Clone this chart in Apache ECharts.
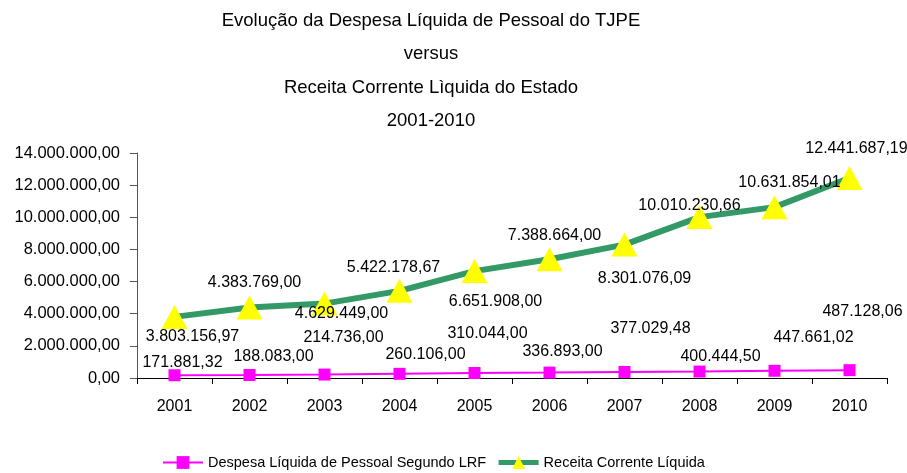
<!DOCTYPE html>
<html lang="pt">

<head>
    <meta charset="UTF-8">
    <title>Despesa x Receita TJPE</title>
    <script src="https://cdn.jsdelivr.net/npm/echarts@6/dist/echarts.min.js"></script>
    <style>
        html, body { margin: 0; padding: 0; background: #fff; }
        #chart { width: 907px; height: 473px; }
    </style>
</head>

<body>
    <div id="chart"></div>
    <script>
        var anos = ['2001', '2002', '2003', '2004', '2005', '2006', '2007', '2008', '2009', '2010'];
        var despesa = [171881.32, 188083.00, 214736.00, 260106.00, 310044.00, 336893.00, 377029.48, 400444.50, 447661.02, 487128.06];
        var receita = [3803156.97, 4383769.00, 4629449.00, 5422178.67, 6651908.00, 7388664.00, 8301076.09, 10010230.66, 10631854.01, 12441687.19];

        // onde cada rótulo fica em relação ao ponto (só estilo)
        var offDespesa = [[8, -13], [24, -18], [19, -37], [26, -19], [13, -39], [13, -21], [26, -43], [21, -15], [39, -33], [13, -59]];
        var offReceita = [[18, 20], [5, -25], [17, 10], [-6, -23], [21, 30], [5, -24], [20, 34], [-10, -12], [15, -25], [7, -29]];

        var fonte = '"Liberation Sans", Arial, sans-serif';

        // 3803156.97 -> 3.803.156,97
        function fmt(v) {
            var p = v.toFixed(2).split('.');
            return p[0].replace(/\B(?=(\d{3})+(?!\d))/g, '.') + ',' + p[1];
        }

        function comRotulos(vals, offs) {
            return vals.map(function(v, i) {
                return { value: v, label: { offset: offs[i] } };
            });
        }

        var myChart = echarts.init(document.getElementById('chart'));
        var option = {
            animation: false,
            textStyle: { fontFamily: fonte },
            title: {
                text: 'Evolução da Despesa Líquida de Pessoal do TJPE\nversus\nReceita Corrente Lìquida do Estado\n2001-2010',
                left: 431,
                textAlign: 'center',
                top: 4,
                padding: 0,
                textStyle: { fontSize: 18.5, fontWeight: 'normal', color: '#000', lineHeight: 33.5, fontFamily: fonte }
            },
            grid: { left: 137, right: 20, top: 153, bottom: 95 },
            legend: {
                left: 157,
                top: 450,
                itemWidth: 40,
                itemHeight: 16,
                itemGap: 10,
                textStyle: { fontSize: 14.5, color: '#000', fontFamily: fonte },
                data: [
                    { name: 'Despesa Líquida de Pessoal Segundo LRF' },
                    { name: 'Receita Corrente Líquida', lineStyle: { width: 5 } }
                ]
            },
            xAxis: {
                type: 'category',
                data: anos,
                boundaryGap: true,
                axisLine: { lineStyle: { color: '#000', width: 1 } },
                axisTick: { show: true, length: 6, lineStyle: { color: '#000' } },
                axisLabel: { fontSize: 16, color: '#000', margin: 21, fontFamily: fonte }
            },
            yAxis: {
                type: 'value',
                min: 0,
                max: 14000000,
                interval: 2000000,
                splitLine: { show: false },
                axisLine: { show: true, lineStyle: { color: '#555', width: 1 } },
                axisTick: { show: true, length: 7, lineStyle: { color: '#555' } },
                axisLabel: { fontSize: 16.5, color: '#000', margin: 17, fontFamily: fonte, formatter: fmt }
            },
            series: [{
                name: 'Despesa Líquida de Pessoal Segundo LRF',
                type: 'line',
                data: comRotulos(despesa, offDespesa),
                symbol: 'rect',
                symbolSize: 12,
                lineStyle: { color: '#ff00ff', width: 2 },
                itemStyle: { color: '#ff00ff' },
                label: {
                    show: true,
                    position: 'inside',
                    fontSize: 16,
                    color: '#000',
                    fontFamily: fonte,
                    formatter: function(p) { return fmt(p.value); }
                },
                z: 3
            }, {
                name: 'Receita Corrente Líquida',
                type: 'line',
                data: comRotulos(receita, offReceita),
                symbol: 'triangle',
                symbolSize: [26, 24],
                lineStyle: { color: '#339966', width: 6 },
                itemStyle: { color: '#ffff00' },
                label: {
                    show: true,
                    position: 'inside',
                    fontSize: 16,
                    color: '#000',
                    fontFamily: fonte,
                    formatter: function(p) { return fmt(p.value); }
                },
                z: 2
            }]
        };
        myChart.setOption(option);
    </script>
</body>

</html>
